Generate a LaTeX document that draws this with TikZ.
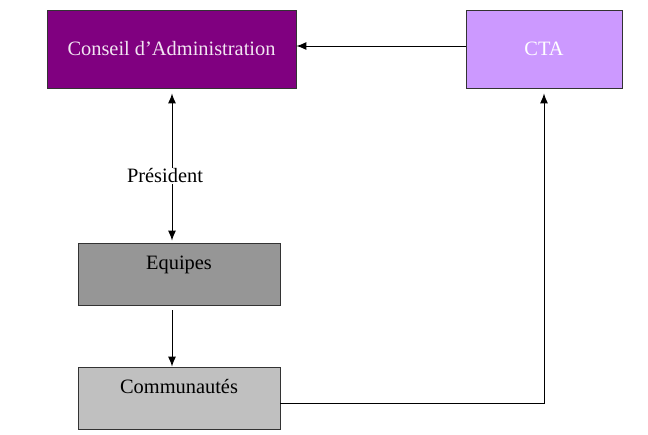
\documentclass[tikz,border=0pt]{standalone}
\usepackage{fontspec}
\setmainfont{Liberation Serif}
\usepackage{tikz}
\usetikzlibrary{calc,arrows.meta}
\definecolor{conseilfill}{HTML}{800080}
\definecolor{ctafill}{HTML}{CC99FF}
\definecolor{equipfill}{HTML}{969696}
\definecolor{commfill}{HTML}{C0C0C0}
\definecolor{boxline}{HTML}{333333}
\tikzset{
orgbox/.style={draw=boxline,line width=0.8pt,font=\fontsize{20.4}{24}\selectfont},
lowbox/.style={orgbox,minimum width=202pt,minimum height=62pt,inner ysep=6pt,text height=20pt,text depth=30pt},
link/.style={line width=1pt,-{Latex[length=10pt,width=8pt]}}
}

\begin{document}
\begin{tikzpicture}[x=1pt,y=-1pt]
\useasboundingbox (0,0) rectangle (648,434);
\node[orgbox,fill=conseilfill,text=white!90!violet,minimum width=249pt,minimum height=78pt] (conseil) at (171.5,49) {Conseil d’Administration};
\node[orgbox,fill=ctafill,text=white,minimum width=156pt,minimum height=78pt] (cta) at (544,49) {CTA};
\node[lowbox,fill=equipfill] (equipes) at (179,274) {Equipes};
\node[lowbox,fill=commfill] (comm) at (179,398) {Communautés};
\node[font=\fontsize{20.4}{24}\selectfont,fill=white,inner sep=1pt] (pres) at (165,176) {Président};
\coordinate (presup) at ($(conseil.south) + (0.5,0)$);

\draw[link] ($(cta.west) + (0,-3)$) -- ($(conseil.east) + (0,-3)$);
\draw[link] (pres.north -| presup) -- ($(presup) + (0,5)$);
\draw[link] (pres.south -| presup) -- ($(presup |- equipes.north) + (0,-2)$);
\draw[link] ($(presup |- equipes.south) + (0,5)$) -- (presup |- comm.north);
\draw[link] ($(comm.east) + (0,5)$) -| ($(cta.south) + (0,5)$);
\end{tikzpicture}
\end{document}
